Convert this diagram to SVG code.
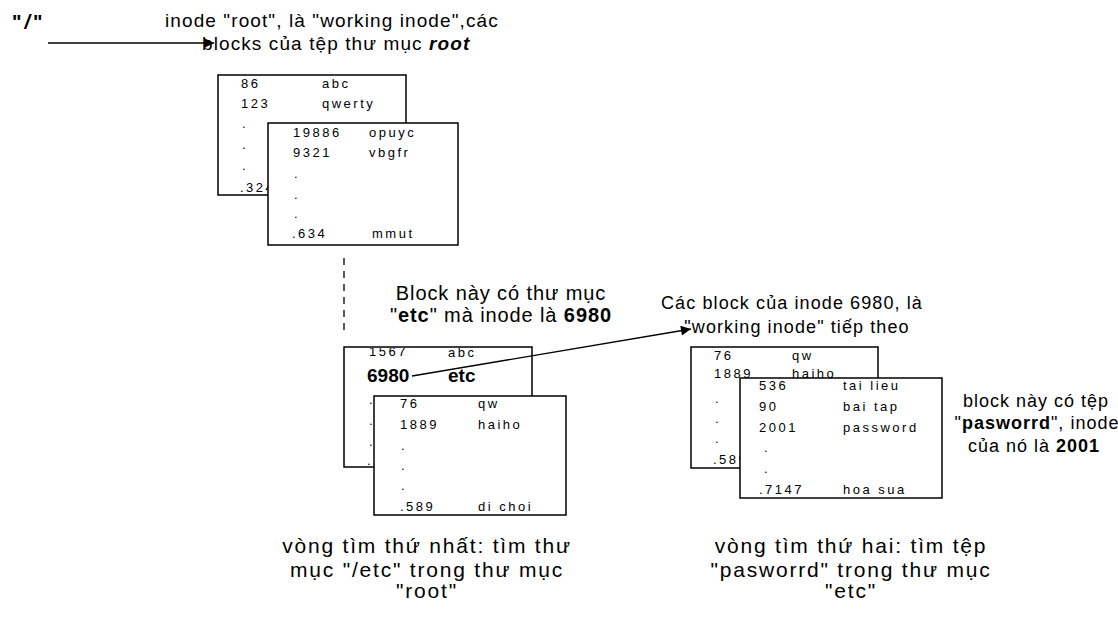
<svg xmlns="http://www.w3.org/2000/svg" width="1118" height="619" viewBox="0 0 1118 619">
<style>
text{font-family:"Liberation Sans",Arial,sans-serif;fill:#000}
.t{font-size:13px;letter-spacing:2.5px}
.top{font-size:19px;letter-spacing:1.1px}
.lbl{font-size:18px;letter-spacing:1.1px;text-anchor:middle}
.mid{font-size:20px;letter-spacing:0.9px;text-anchor:middle}
.big{font-size:21px;letter-spacing:1.8px;text-anchor:middle}
.bn{font-size:19px;font-weight:bold}
.box{fill:#fff;stroke:#000;stroke-width:1.5}
.ln{stroke:#000;stroke-width:1.3;fill:none}
</style>
<defs>
<marker id="ah" viewBox="0 0 10 10" refX="10" refY="5" markerWidth="12" markerHeight="10" markerUnits="userSpaceOnUse" orient="auto">
<path d="M0,0 L10,5 L0,10 z" fill="#000"/>
</marker>
<clipPath id="c3"><rect x="344" y="348" width="188" height="119"/></clipPath>
</defs>
<rect width="1118" height="619" fill="#fff"/>

<g id="root-label">
<text x="12" y="29" style="font-size:20px;font-weight:bold;letter-spacing:3px">"<tspan font-style="italic">/</tspan>"</text>
<text class="top" x="165" y="27">inode "root", là "working inode",các</text>
<text class="top" x="202" y="50">blocks của tệp thư mục <tspan font-weight="bold" font-style="italic">root</tspan></text>
</g>

<g id="root-block1">
<rect class="box" x="218" y="75" width="188" height="120"/>
<text class="t" x="241" y="88">86</text><text class="t" x="322" y="88">abc</text>
<text class="t" x="241" y="108">123</text><text class="t" x="322" y="108">qwerty</text>
<text class="t" x="242" y="128">.</text>
<text class="t" x="242" y="149">.</text>
<text class="t" x="242" y="170">.</text>
<text class="t" x="240" y="192">.324</text>
</g>
<g id="root-block2">
<rect class="box" x="268" y="123" width="190" height="122"/>
<text class="t" x="293" y="137">19886</text><text class="t" x="369" y="137">opuyc</text>
<text class="t" x="293" y="157">9321</text><text class="t" x="369" y="157">vbgfr</text>
<text class="t" x="294" y="178">.</text>
<text class="t" x="294" y="199">.</text>
<text class="t" x="294" y="218">.</text>
<text class="t" x="292" y="238">.634</text><text class="t" x="372" y="238">mmut</text>
</g>

<g id="etc-note">
<text class="mid" x="501" y="300">Block này có thư mục</text>
<text class="mid" x="501" y="322">"<tspan font-weight="bold">etc</tspan>" mà inode là <tspan font-weight="bold">6980</tspan></text>
</g>

<g id="etc-block1">
<rect class="box" x="344" y="347" width="188" height="120"/>
<g clip-path="url(#c3)">
<text class="t" x="369" y="356">1567</text><text class="t" x="448" y="357">abc</text>
</g>
<text class="bn" x="367" y="382">6980</text><text class="bn" x="448" y="382">etc</text>
<text class="t" x="369" y="404">.</text>
<text class="t" x="369" y="425">.</text>
<text class="t" x="369" y="446">.</text>
<text class="t" x="367" y="465">.324</text>
</g>
<g id="etc-block2">
<rect class="box" x="374" y="396" width="192" height="119"/>
<text class="t" x="400" y="408">76</text><text class="t" x="478" y="408">qw</text>
<text class="t" x="400" y="429">1889</text><text class="t" x="478" y="429">haiho</text>
<text class="t" x="401" y="450">.</text>
<text class="t" x="401" y="470">.</text>
<text class="t" x="401" y="490">.</text>
<text class="t" x="400" y="511">.589</text><text class="t" x="478" y="511">di choi</text>
</g>

<g id="next-note">
<text class="lbl" x="792" y="309">Các block của inode 6980, là</text>
<text class="lbl" x="797" y="333">"working inode" tiếp theo</text>
</g>

<g id="pw-block1">
<rect class="box" x="691" y="347" width="187" height="121"/>
<text class="t" x="714" y="360">76</text><text class="t" x="792" y="360">qw</text>
<text class="t" x="714" y="378">1889</text><text class="t" x="792" y="378">haiho</text>
<text class="t" x="715" y="403">.</text>
<text class="t" x="715" y="423">.</text>
<text class="t" x="715" y="443">.</text>
<text class="t" x="713" y="464">.589</text>
</g>
<g id="pw-block2">
<rect class="box" x="740" y="378" width="202" height="120"/>
<text class="t" x="759" y="390">536</text><text class="t" x="843" y="390">tai lieu</text>
<text class="t" x="759" y="411">90</text><text class="t" x="843" y="411">bai tap</text>
<text class="t" x="759" y="432">2001</text><text class="t" x="843" y="432">password</text>
<text class="t" x="764" y="452">.</text>
<text class="t" x="764" y="473">.</text>
<text class="t" x="759" y="494">.7147</text><text class="t" x="843" y="494">hoa sua</text>
</g>

<g id="pw-note">
<text class="lbl" style="letter-spacing:1px" x="1036" y="407">block này có tệp</text>
<text class="lbl" style="letter-spacing:1px" x="1037" y="429">"<tspan font-weight="bold">pasworrd</tspan>", inode</text>
<text class="lbl" style="letter-spacing:1px" x="1034" y="452">của nó là <tspan font-weight="bold">2001</tspan></text>
</g>

<g id="round1">
<text class="big" x="427" y="553">vòng tìm thứ nhất: tìm thư</text>
<text class="big" x="427" y="577">mục "/etc" trong thư mục</text>
<text class="big" x="427" y="598">"root"</text>
</g>
<g id="round2">
<text class="big" x="851" y="553">vòng tìm thứ hai: tìm tệp</text>
<text class="big" x="851" y="577">"pasworrd" trong thư mục</text>
<text class="big" x="851" y="598">"etc"</text>
</g>

<g id="connectors">
<line class="ln" x1="48" y1="43" x2="214" y2="43" marker-end="url(#ah)"/>
<line class="ln" x1="344" y1="258" x2="344" y2="331" stroke-dasharray="7,6"/>
<line class="ln" x1="412" y1="376" x2="691" y2="329" marker-end="url(#ah)"/>
</g>
</svg>
